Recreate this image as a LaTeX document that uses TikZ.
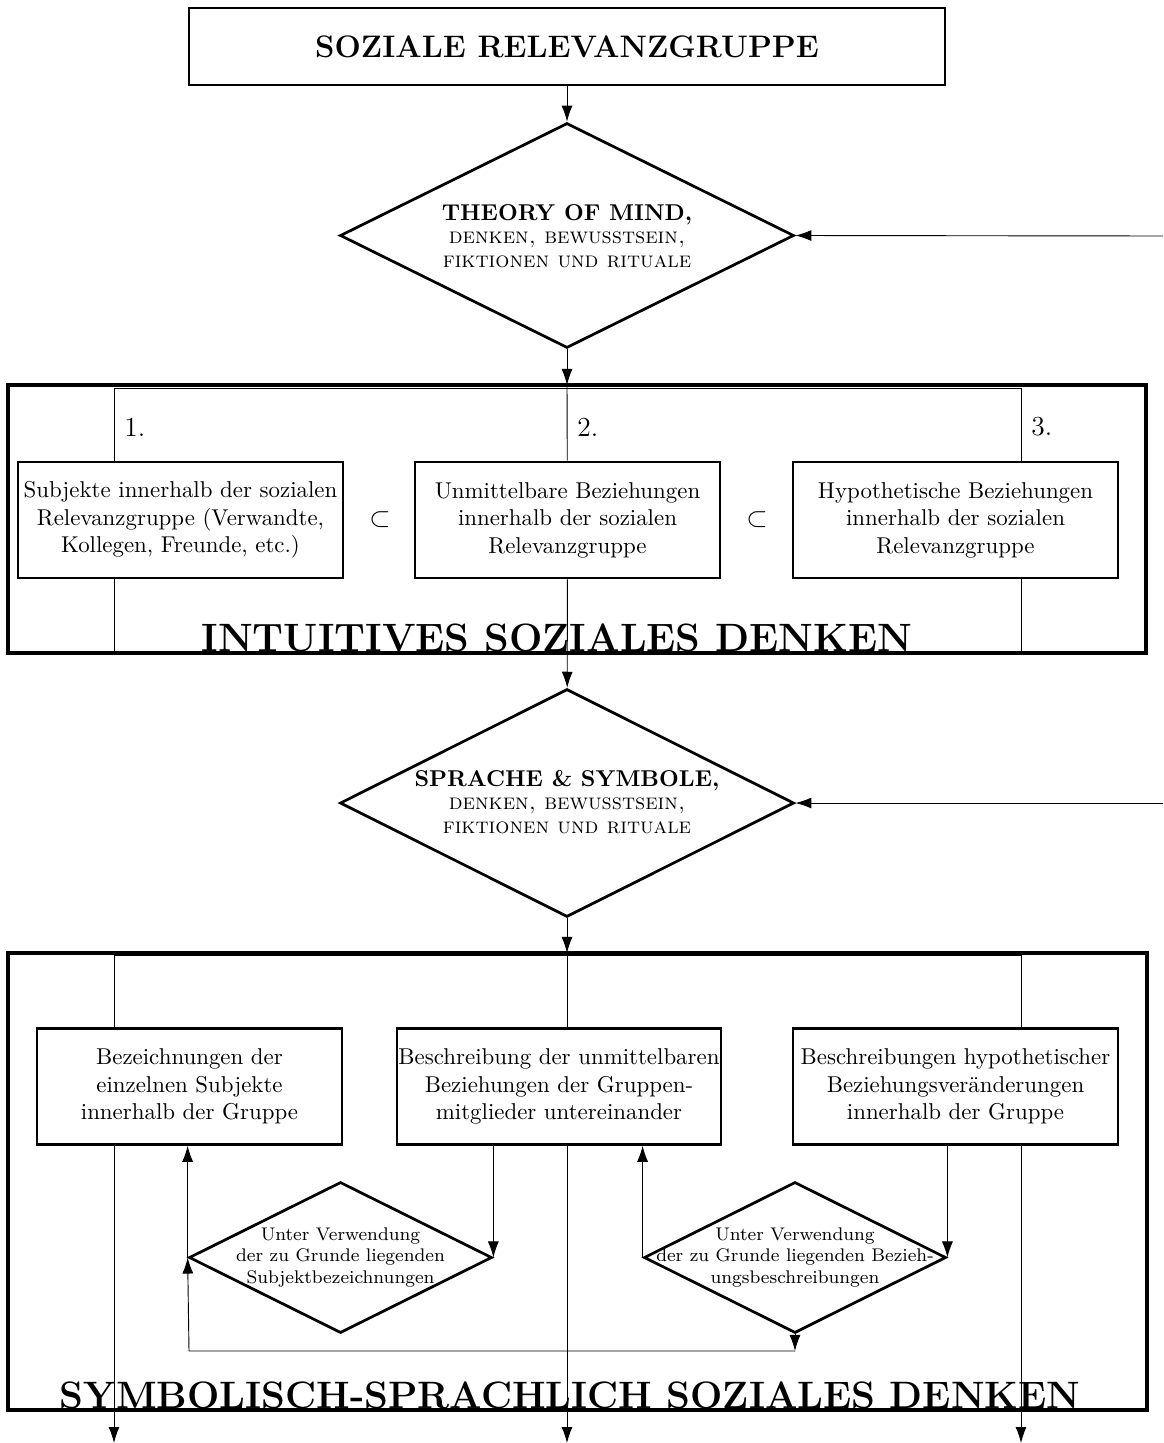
\documentclass[tikz,border=0pt]{standalone}
\usetikzlibrary{shapes.geometric,arrows.meta,backgrounds}
\newcommand{\dsc}[1]{{\fontsize{9.7}{10.3}\selectfont\scshape #1}}
\begin{document}
\begin{tikzpicture}[x=0.437pt,y=-0.437pt,line width=1.2pt,
  box/.style={draw,fill=white,align=center,inner sep=0pt,minimum height=50.6pt},
  dia/.style={draw,fill=white,diamond,inner sep=0pt},
  dtext/.style={align=center,inner sep=0pt},
  arr/.style={-{Latex[length=7pt,width=4.8pt]}},
  frame/.style={draw,line width=2.1pt,inner sep=0pt},
  bigtitle/.style={font=\bfseries\fontsize{17.28}{20}\selectfont,anchor=base,inner sep=0pt},
  num/.style={font=\large,anchor=west,inner sep=0pt},
  subs/.style={font=\large,inner sep=0pt}]
\useasboundingbox (0,0) rectangle (1163,1443);

% top
\node[box,minimum width=330.4pt,minimum height=33.6pt,font=\bfseries\fontsize{13.6}{16}\selectfont] (top) at (567,46.5) {SOZIALE RELEVANZGRUPPE};
\node[dia,minimum width=198.4pt,minimum height=98.3pt] (d1) at (567,235.5) {};
\node[dtext,font=\fontsize{10}{10.3}\selectfont] (d1t) at (567,236)
  {\textbf{THEORY OF MIND,}\\\dsc{denken, bewusstsein,}\\\dsc{fiktionen und rituale}};
\coordinate (r1) at (1163,236);

% frame 1
\node[frame,minimum width=497.3pt,minimum height=117.1pt] (f1) at (577,519) {};
\coordinate (f1t) at (567,385);
\coordinate (i1a) at (114,388);
\coordinate (i1b) at (1021,652);
\node[box,minimum width=142pt] (a1) at (180.5,520) {Subjekte innerhalb der sozialen\\Relevanzgruppe (Verwandte,\\Kollegen, Freunde, etc.)};
\node[box,minimum width=133.3pt] (a2) at (567.5,520) {Unmittelbare Beziehungen\\innerhalb der sozialen\\Relevanzgruppe};
\node[box,minimum width=142pt] (a3) at (955.5,520) {Hypothetische Beziehungen\\innerhalb der sozialen\\Relevanzgruppe};
\node[subs] (s1) at (380,520) {$\subset$};
\node[subs] (s2) at (757,520) {$\subset$};
\node[num] (n1) at (123,427) {1.};
\node[num] (n2) at (576,427) {2.};
\node[num] (n3) at (1030,427) {3.};
\node[bigtitle] (t1) at (557,651) {INTUITIVES SOZIALES DENKEN};

% diamond 2
\node[dia,minimum width=198.4pt,minimum height=99.6pt] (d2) at (567,803) {};
\node[dtext,font=\fontsize{10}{10.3}\selectfont] (d2t) at (567,802)
  {\textbf{SPRACHE \& SYMBOLE,}\\\dsc{denken, bewusstsein,}\\\dsc{fiktionen und rituale}};
\coordinate (r2) at (1163,803);

% frame 2
\node[frame,minimum width=497.7pt,minimum height=199.7pt] (f2) at (577.5,1181.5) {};
\coordinate (f2t) at (567,953);
\coordinate (t2l) at (114,955);
\coordinate (t2r) at (1021,955);
\coordinate (o1) at (114,1443);
\coordinate (o2) at (567,1443);
\coordinate (o3) at (1021,1443);
\node[box,minimum width=133.3pt] (b1) at (189.5,1086.5) {Bezeichnungen der\\einzelnen Subjekte\\innerhalb der Gruppe};
\node[box,minimum width=141.6pt] (b2) at (559,1086.5) {Beschreibung der unmittelbaren\\Beziehungen der Gruppen-\\mitglieder untereinander};
\node[box,minimum width=142pt] (b3) at (955.5,1086.5) {Beschreibungen hypothetischer\\Beziehungsver\"anderungen\\innerhalb der Gruppe};
\node[dia,minimum width=132.4pt,minimum height=66pt] (e1) at (340.5,1257.5) {};
\node[dtext,font=\footnotesize] (e1t) at (340.5,1257.5) {Unter Verwendung\\der zu Grunde liegenden\\Subjektbezeichnungen};
\node[dia,minimum width=132pt,minimum height=66pt] (e2) at (795,1257.5) {};
\node[dtext,font=\footnotesize] (e2t) at (795,1257.5) {Unter Verwendung\\der zu Grunde liegenden Bezieh-\\ungsbeschreibungen};
\coordinate (lr) at (795,1351);
\coordinate (ll) at (189,1351);
\node[bigtitle,font=\bfseries\fontsize{16.7}{20}\selectfont] (t2) at (570,1408) {SYMBOLISCH-SPRACHLICH SOZIALES DENKEN};

\begin{pgfonlayer}{background}
\draw[arr] (top) -- (d1);
\draw[arr] (r1) -- (d1.east);
\draw[arr] (d1) -- (f1t);
\draw (i1a) rectangle (i1b);
\draw (f1t) -- (a2);
\draw[arr] (a2) -- (d2);
\draw[arr] (r2) -- (d2.east);
\draw[arr] (d2) -- (f2t);
\draw (t2l) -- (t2r);
\draw[arr] (t2l) -- (o1);
\draw[arr] (t2r) -- (o3);
\draw[arr] (f2t) -- (o2);
\draw[arr] (b2.south -| e1.east) -- (e1.east);
\draw[arr] (e1.west) -- (e1.west |- b1.south);
\draw[arr] (b3.south -| e2.east) -- (e2.east);
\draw[arr] (e2.west) -- (e2.west |- b2.south);
\draw[arr] (e2.south) -- (lr);
\draw[arr] (lr) -- (ll) -- (e1.west);
\end{pgfonlayer}
\end{tikzpicture}
\end{document}
